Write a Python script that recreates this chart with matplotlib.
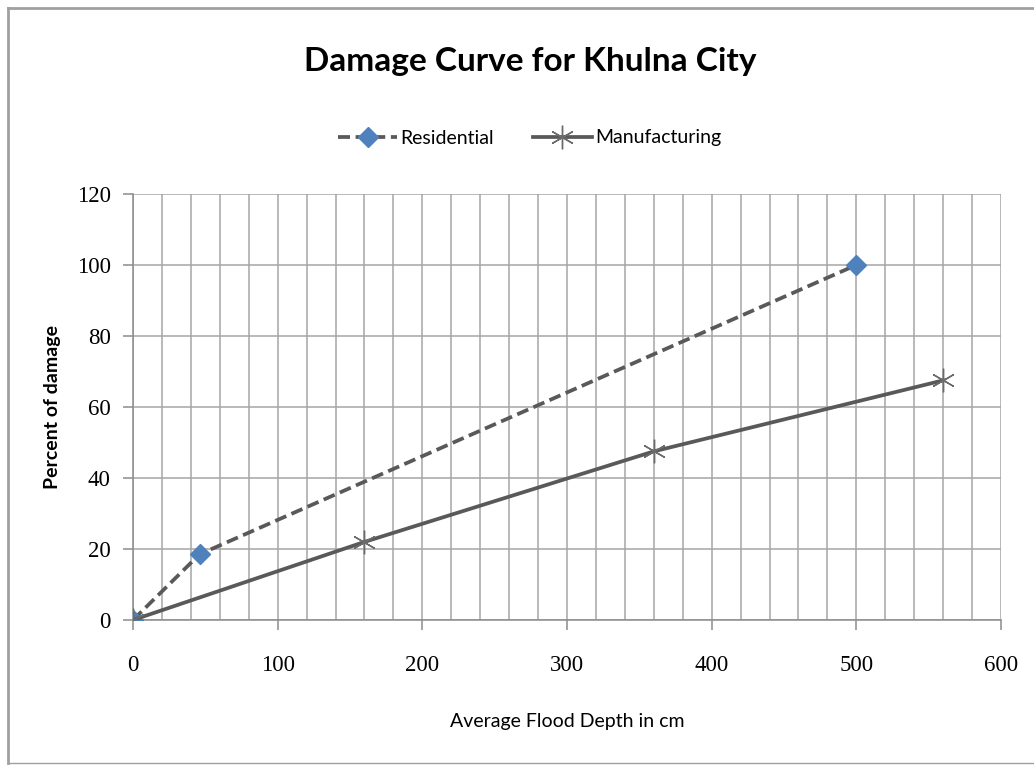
import numpy as np
import matplotlib.pyplot as plt
from matplotlib.lines import Line2D
from matplotlib.ticker import MultipleLocator

# Data
res_depth = [0, 46, 500]
res_damage = [0, 18.5, 100]
man_depth = [0, 160, 360, 560]
man_damage = [0, 22, 47.5, 67.5]

x_ticks = [0, 100, 200, 300, 400, 500, 600]
y_ticks = [0, 20, 40, 60, 80, 100, 120]

W, H = 1034, 765
fig = plt.figure(figsize=(W / 100, H / 100), dpi=100)
ax = fig.add_axes([133 / W, 1 - 620 / H, (1001 - 133) / W, (620 - 194) / H])

line_col = '#595959'
grid_col = '#a6a6a6'

ax.plot(res_depth, res_damage, color=line_col, lw=2.7, dashes=(3.2, 1.5),
        marker='D', ms=10, mfc='#4f81bd', mec='#4f81bd', label='Residential', zorder=3)
ax.plot(man_depth, man_damage, color=line_col, lw=2.7,
        marker=(6, 2, 0), ms=17, mec='#6b6b6b', mew=1.0, label='Manufacturing', zorder=3)

ax.set_xlim(0, 600)
ax.set_ylim(0, 120)
ax.set_xticks(x_ticks)
ax.set_yticks(y_ticks)
ax.xaxis.set_minor_locator(MultipleLocator(20))
ax.grid(True, which='both', axis='x', color=grid_col, lw=1.1)
ax.grid(True, which='major', axis='y', color=grid_col, lw=1.1)
ax.set_axisbelow(True)

for s in ['top', 'right']:
    ax.spines[s].set_visible(False)
for s in ['left', 'bottom']:
    ax.spines[s].set_color('#8c8c8c')
    ax.spines[s].set_linewidth(1.1)

ax.tick_params(axis='x', which='major', length=7, width=1.1, color='#8c8c8c', pad=18)
ax.tick_params(axis='y', which='major', length=7, width=1.1, color='#8c8c8c', pad=9)
ax.tick_params(which='minor', length=0)
for lab in ax.get_xticklabels() + ax.get_yticklabels():
    lab.set_family('Liberation Serif')
    lab.set_fontsize(16.5)

fig.text(567 / W, 1 - 722 / H, 'Average Flood Depth in cm', ha='center', va='center',
         family='Lato', fontsize=14)
fig.text(53 / W, 1 - 407 / H, 'Percent of damage', ha='center', va='center',
         rotation=90, family='Lato', fontweight='bold', fontsize=14)
fig.text(530 / W, 1 - 62 / H, 'Damage Curve for Khulna City', ha='center', va='center',
         family='Lato', fontweight='bold', fontsize=24)

fig.legend(loc='center', bbox_to_anchor=(530 / W, 1 - 138 / H), ncol=2, frameon=False,
           prop={'family': 'Lato', 'size': 14}, handlelength=3.0, columnspacing=2.0,
           handletextpad=0.2)

# outer chart border
bc = '#a0a0a0'
fig.add_artist(Line2D([8 / W, 1], [1 - 8 / H, 1 - 8 / H], transform=fig.transFigure, color=bc, lw=2))
fig.add_artist(Line2D([8 / W, 8 / W], [1 - 8 / H, 1 - 763 / H], transform=fig.transFigure, color=bc, lw=2))
fig.add_artist(Line2D([8 / W, 1], [1 - 763 / H, 1 - 763 / H], transform=fig.transFigure, color=bc, lw=1))

fig.savefig('out.png', dpi=100)
